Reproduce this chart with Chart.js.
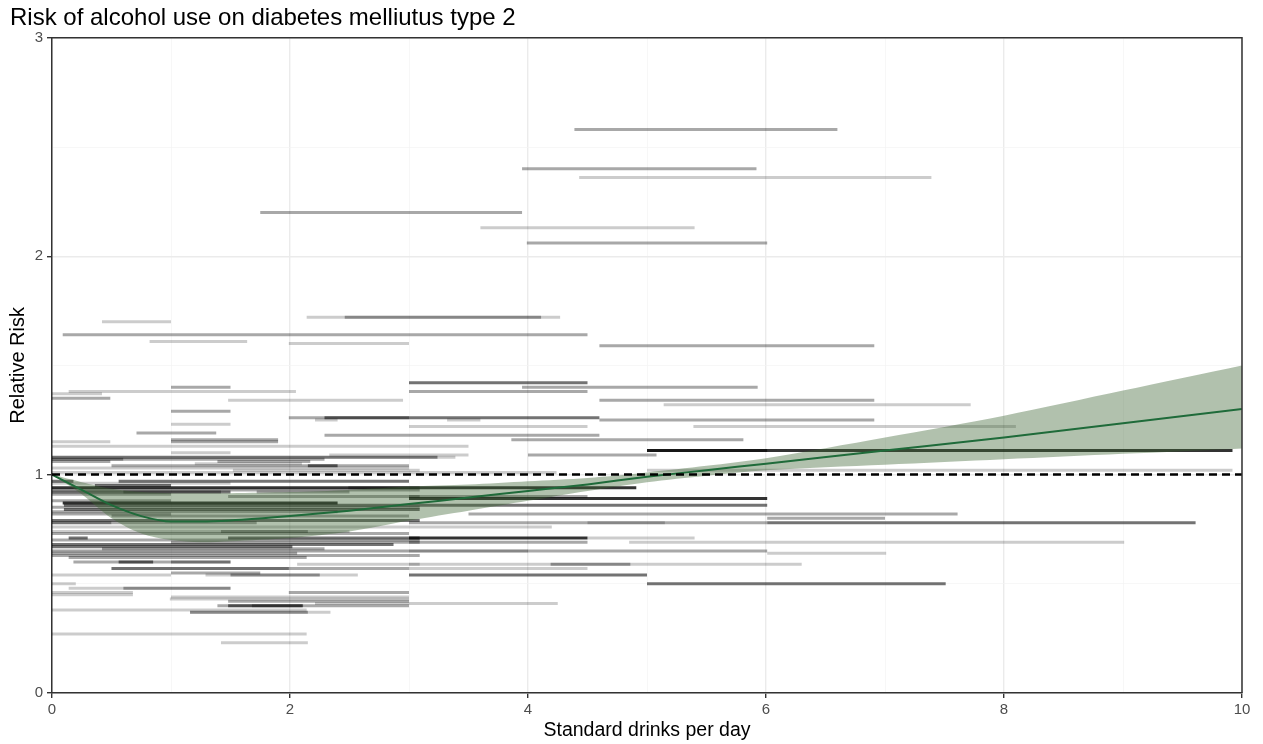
<!DOCTYPE html>
<html>
<head>
<meta charset="utf-8">
<script src="https://cdn.jsdelivr.net/npm/chart.js@4/dist/chart.umd.min.js"></script>
<style>
  html, body { margin: 0; padding: 0; background: #fff; }
</style>
</head>
<body>
<canvas id="riskChart" width="1263" height="744"></canvas>
<script>
// study estimates: exposure range (start..end drinks/day), relative risk, weight class (1 light .. 4 heavy)
var studyStart = [4.39, 3.95, 4.43, 1.75, 3.60, 3.99, 2.14, 2.46, 0.42, 0.09, 0.82, 1.99, 4.60,
  3.00, 1.00, 3.95, 0.14, 3.00, 0.00, 0.00, 1.48, 4.60, 5.14, 1.00, 1.99, 2.29, 3.32, 4.60, 2.21,
  1.00, 3.00, 5.39, 0.71, 2.29, 3.86, 1.00, 1.00, 0.00, 0.00, 5.00, 5.00, 1.00, 2.33, 4.00, 0.00,
  3.24, 0.00, 0.60, 0.00, 1.39, 1.20, 0.50, 2.15, 0.00, 1.52, 5.00, 0.00,
  0.56, 0.00, 0.00, 0.36, 0.00, 2.49, 0.00, 0.00, 0.60, 1.72, 0.00, 1.48, 3.00, 3.00, 0.00, 0.09,
  0.10, 0.00, 0.10, 0.00, 0.00, 3.50, 0.50, 6.01, 0.00, 0.00, 0.50, 3.00, 6.01, 4.50, 0.00, 0.00,
  1.42, 0.00, 0.14, 1.48, 3.00, 4.50, 0.00, 1.00, 3.00, 4.85, 0.00, 0.00, 0.42, 0.00, 0.00, 3.00,
  6.01, 0.00, 0.00, 0.14, 0.18, 0.56, 1.00, 2.06, 3.00, 4.19, 0.50, 0.50, 3.00, 1.00, 0.00, 1.29,
  1.50, 3.00, 5.00, 0.00, 0.14, 0.60, 0.00, 1.99, 0.00, 1.00, 0.99, 1.48, 2.21, 1.39, 1.48, 1.68,
  0.00, 1.16, 1.16, 0.00, 1.42];
var studyEnd = [6.60, 5.92, 7.39, 3.95, 5.40, 6.01, 4.27, 4.11, 1.00, 4.50, 1.64, 3.00, 6.91,
  4.50, 1.50, 5.93, 2.05, 4.50, 0.42, 0.49, 2.95, 6.91, 7.72, 1.50, 3.00, 4.60, 3.60, 6.91, 2.40,
  1.50, 4.50, 8.10, 1.38, 4.60, 5.81, 1.90, 1.90, 0.49, 3.50, 9.92, 6.01, 1.50, 3.50, 5.08, 3.24,
  3.39, 0.60, 2.29, 0.49, 2.17, 2.10, 3.00, 2.40, 3.00, 3.09, 9.92, 4.24,
  3.00, 0.18, 1.50, 1.00, 4.91, 3.09, 3.09, 1.50, 1.42, 2.50, 1.00, 3.09, 4.50, 6.01, 1.00, 2.40,
  6.01, 3.09, 3.09, 2.40, 1.00, 7.61, 3.00, 7.00, 3.09, 0.50, 1.72, 6.01, 9.61, 5.15, 4.20, 2.50,
  2.15, 3.00, 0.30, 3.09, 4.50, 5.40, 3.09, 3.09, 4.50, 9.01, 2.87, 2.02, 2.29, 3.00, 4.00, 6.01,
  7.01, 2.06, 3.09, 2.14, 1.50, 0.85, 1.50, 3.09, 6.30, 4.86, 1.99, 3.00, 4.50, 1.75, 1.00, 2.57,
  2.25, 5.00, 7.51, 0.20, 1.50, 1.50, 0.68, 3.00, 0.68, 3.00, 3.00, 3.00, 4.25, 2.10, 2.11, 3.00,
  2.14, 2.34, 2.15, 2.14, 2.15];
var studyRR = [2.58, 2.40, 2.36, 2.20, 2.13, 2.06, 1.72, 1.72, 1.70, 1.64, 1.61, 1.60, 1.59,
  1.42, 1.40, 1.40, 1.38, 1.38, 1.37, 1.35, 1.34, 1.34, 1.32, 1.29, 1.26, 1.26, 1.25, 1.25, 1.25,
  1.23, 1.22, 1.22, 1.19, 1.18, 1.16, 1.16, 1.15, 1.15, 1.13, 1.11, 1.11, 1.10, 1.09, 1.09, 1.08,
  1.08, 1.07, 1.07, 1.06, 1.06, 1.05, 1.04, 1.04, 1.03, 1.02, 1.02, 1.01,
  0.97, 0.97, 0.96, 0.95, 0.94, 0.94, 0.93, 0.92, 0.92, 0.92, 0.91, 0.90, 0.90, 0.89, 0.88, 0.87,
  0.86, 0.85, 0.84, 0.83, 0.82, 0.82, 0.81, 0.80, 0.79, 0.78, 0.78, 0.78, 0.78, 0.78, 0.76, 0.74,
  0.74, 0.73, 0.71, 0.71, 0.71, 0.71, 0.70, 0.69, 0.69, 0.69, 0.68, 0.67, 0.66, 0.65, 0.65, 0.65,
  0.64, 0.64, 0.63, 0.62, 0.60, 0.60, 0.60, 0.59, 0.59, 0.59, 0.57, 0.57, 0.57, 0.55, 0.54, 0.54,
  0.54, 0.54, 0.50, 0.50, 0.48, 0.48, 0.46, 0.46, 0.45, 0.44, 0.43, 0.42, 0.41, 0.40, 0.40, 0.40,
  0.38, 0.37, 0.37, 0.27, 0.23];
var studyWeight = [2, 2, 1, 2, 1, 2, 1, 2, 1, 2, 1, 1, 2,
  3, 2, 2, 1, 2, 1, 2, 1, 2, 1, 2, 2, 3, 1, 2, 1,
  1, 1, 1, 2, 2, 2, 2, 2, 1, 1, 4, 3, 1, 1, 2, 3,
  1, 3, 2, 2, 2, 1, 2, 3, 1, 1, 1, 1,
  3, 3, 1, 3, 4, 2, 2, 3, 2, 2, 2, 2, 2, 4, 2, 4,
  3, 2, 3, 2, 2, 2, 2, 2, 3, 3, 2, 2, 3, 1, 1, 1,
  2, 2, 3, 3, 4, 1, 2, 2, 2, 1, 3, 3, 2, 1, 1, 2,
  1, 2, 2, 2, 2, 3, 2, 1, 1, 2, 2, 2, 1, 2, 1, 1,
  2, 3, 3, 1, 1, 2, 1, 2, 1, 1, 1, 2, 1, 2, 3, 2,
  1, 1, 2, 1, 1];

// pooled dose-response curve with confidence band
var curveDose  = [0, 0.25, 0.5, 0.75, 1, 1.25, 1.5, 2, 2.5, 3, 3.5, 4, 4.5, 5, 5.5, 6, 7, 8, 9, 10];
var curveRR    = [1.0, 0.93, 0.86, 0.81, 0.785, 0.785, 0.79, 0.81, 0.835, 0.865, 0.895, 0.925, 0.955, 0.99, 1.02, 1.05, 1.11, 1.17, 1.235, 1.30];
var curveLower = [1.0, 0.91, 0.80, 0.73, 0.70, 0.69, 0.695, 0.71, 0.74, 0.79, 0.835, 0.88, 0.925, 0.965, 0.995, 1.02, 1.045, 1.07, 1.095, 1.12];
var curveUpper = [1.0, 0.965, 0.935, 0.92, 0.915, 0.915, 0.915, 0.92, 0.93, 0.945, 0.955, 0.97, 0.985, 1.01, 1.04, 1.075, 1.17, 1.27, 1.385, 1.50];

var refRR = 1;
var doseRange = [0, 10];
var xTicks = [0, 2, 4, 6, 8, 10];
var yTicks = [0, 1, 2, 3];

var weightAlpha = { 1: 0.2, 2: 0.34, 3: 0.55, 4: 0.8 };

var studyPoints = [];
for (var i = 0; i < studyRR.length; i++) {
  studyPoints.push({ x: studyStart[i], y: studyRR[i] });
  studyPoints.push({ x: studyEnd[i], y: studyRR[i] });
  studyPoints.push({ x: studyEnd[i], y: null });
}

function toXY(ys) {
  return curveDose.map(function (d, k) { return { x: d, y: ys[k] }; });
}

var panelBorder = {
  id: "panelBorder",
  afterDraw: function (chart) {
    var a = chart.chartArea, c = chart.ctx;
    c.save();
    c.strokeStyle = "#333333";
    c.lineWidth = 1.5;
    c.beginPath();
    c.moveTo(a.left, a.top);
    c.lineTo(a.right, a.top);
    c.lineTo(a.right, a.bottom);
    c.stroke();
    c.restore();
  }
};

var font = "'Liberation Sans', Arial, sans-serif";

var ctx = document.getElementById("riskChart").getContext("2d");
var chart = new Chart(ctx, {
  type: "line",
  data: {
    datasets: [
      {
        label: "Studies",
        data: studyPoints,
        borderWidth: 3,
        borderCapStyle: "butt",
        pointRadius: 0,
        spanGaps: false,
        fill: false,
        order: 5,
        segment: {
          borderColor: function (c) {
            var w = studyWeight[Math.floor(c.p0DataIndex / 3)];
            return "rgba(0,0,0," + weightAlpha[w] + ")";
          }
        }
      },
      {
        label: "Lower",
        data: toXY(curveLower),
        borderWidth: 0,
        pointRadius: 0,
        fill: false,
        tension: 0.3,
        order: 4
      },
      {
        label: "Upper",
        data: toXY(curveUpper),
        borderWidth: 0,
        pointRadius: 0,
        fill: "-1",
        backgroundColor: "rgba(60,100,50,0.4)",
        tension: 0.3,
        order: 3
      },
      {
        label: "Relative risk",
        data: toXY(curveRR),
        borderColor: "#1f6b3a",
        borderWidth: 2,
        pointRadius: 0,
        fill: false,
        cubicInterpolationMode: "monotone",
        order: 2
      },
      {
        label: "Reference",
        data: [{ x: doseRange[0], y: refRR }, { x: doseRange[1], y: refRR }],
        borderColor: "#000000",
        borderWidth: 2.5,
        borderDash: [8, 5],
        pointRadius: 0,
        fill: false,
        order: 1
      }
    ]
  },
  options: {
    responsive: false,
    animation: false,
    devicePixelRatio: 1,
    layout: { padding: { left: 10, right: 21, top: 0, bottom: 2 } },
    plugins: {
      legend: { display: false },
      tooltip: { enabled: false },
      title: {
        display: true,
        text: "Risk of alcohol use on diabetes melliutus type 2",
        align: "start",
        color: "#000000",
        font: { family: font, size: 24, weight: "normal" },
        padding: { top: 4, bottom: 5 }
      }
    },
    scales: {
      x: {
        type: "linear",
        min: doseRange[0],
        max: doseRange[1],
        afterFit: function (s) { s.height = 49; },
        ticks: {
          stepSize: 1,
          autoSkip: false,
          maxRotation: 0,
          color: "#4d4d4d",
          font: { family: font, size: 15 },
          padding: 3,
          callback: function (v) { return xTicks.indexOf(v) >= 0 ? v : ""; }
        },
        grid: {
          color: function (c) { return xTicks.indexOf(c.tick.value) >= 0 ? "#ebebeb" : "#f4f4f4"; },
          lineWidth: function (c) { return xTicks.indexOf(c.tick.value) >= 0 ? 1.4 : 0.7; },
          tickColor: function (c) { return xTicks.indexOf(c.tick.value) >= 0 ? "#333333" : "rgba(0,0,0,0)"; },
          tickLength: 5
        },
        border: { color: "#333333", width: 1.5 },
        title: {
          display: true,
          text: "Standard drinks per day",
          color: "#000000",
          font: { family: font, size: 19.5 },
          padding: { top: 0, bottom: 0 }
        }
      },
      y: {
        min: 0,
        max: 3,
        afterFit: function (s) { s.width = 42; },
        ticks: {
          stepSize: 0.5,
          autoSkip: false,
          color: "#4d4d4d",
          font: { family: font, size: 15 },
          padding: 4,
          callback: function (v) { return yTicks.indexOf(v) >= 0 ? v : ""; }
        },
        grid: {
          color: function (c) { return yTicks.indexOf(c.tick.value) >= 0 ? "#ebebeb" : "#f4f4f4"; },
          lineWidth: function (c) { return yTicks.indexOf(c.tick.value) >= 0 ? 1.4 : 0.7; },
          tickColor: function (c) { return yTicks.indexOf(c.tick.value) >= 0 ? "#333333" : "rgba(0,0,0,0)"; },
          tickLength: 5
        },
        border: { color: "#333333", width: 1.5 },
        title: {
          display: true,
          text: "Relative Risk",
          color: "#000000",
          font: { family: font, size: 20 },
          padding: { top: -3.5, bottom: 0 }
        }
      }
    }
  },
  plugins: [panelBorder]
});
</script>
</body>
</html>
